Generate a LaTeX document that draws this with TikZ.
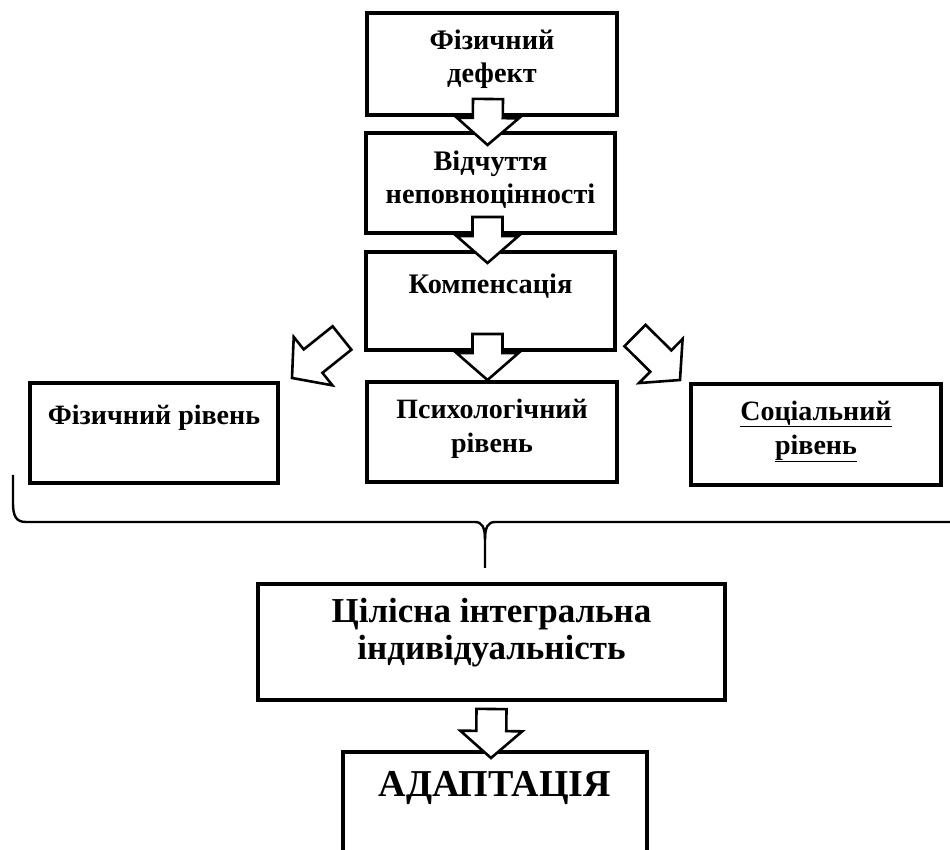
\documentclass[tikz,border=0pt]{standalone}
\usepackage{fontspec}
\setmainfont{Liberation Serif}
\usetikzlibrary{calc}
\tikzset{
  box/.style={draw, line width=4pt, inner sep=0pt, fill=white},
  blockarrow/.style={draw, line width=2.6pt, fill=white, line join=miter},
  bracepath/.style={draw, line width=2.4pt},
  txtA/.style={font=\fontsize{28.3}{33}\selectfont\bfseries, align=center, inner sep=0pt},
  txtB/.style={font=\fontsize{28}{34}\selectfont\bfseries, align=center, inner sep=0pt},
  txtC/.style={font=\fontsize{35}{37}\selectfont\bfseries, align=center, inner sep=0pt},
  txtD/.style={font=\fontsize{38}{40}\selectfont\bfseries, align=center, inner sep=0pt}
}
% block arrow from coordinate #1 (tail centre) to coordinate #2 (tip)
\newcommand\blockarr[2]{%
  \coordinate (nk) at ($(#2)!27pt!(#1)$);
  \draw[blockarrow] ($(#1)!15pt!90:(#2)$) -- ($(nk)!15pt!90:(#2)$) -- ($(nk)!31pt!90:(#2)$)
    -- (#2) -- ($(nk)!31pt!-90:(#2)$) -- ($(nk)!15pt!-90:(#2)$) -- ($(#1)!15pt!-90:(#2)$) -- cycle;
}
\begin{document}
\begin{tikzpicture}[x=1pt,y=1pt]
\useasboundingbox (0,0) rectangle (950,849);
\clip (0,0) rectangle (950,849);
\fill[white] (0,0) rectangle (950,849);

% boxes
\node[box, minimum width=250pt, minimum height=102pt,
  label={[txtA, yshift=5pt]center:{Фізичний\\дефект}}] (b1) at (492,785) {};
\node[box, minimum width=249pt, minimum height=100pt,
  label={[txtA, yshift=3pt]center:{Відчуття\\неповноцінності}}] (b2) at (490.5,666) {};
\node[box, minimum width=249pt, minimum height=98pt,
  label={[txtA, yshift=15pt]center:{Компенсація}}] (b3) at (490.5,548) {};
\node[box, minimum width=248pt, minimum height=100pt,
  label={[txtB, yshift=15pt]center:{Фізичний рівень}}] (phys) at (154,416) {};
\node[box, minimum width=250pt, minimum height=100pt,
  label={[txtB, yshift=3pt]center:{Психологічний\\рівень}}] (psych) at (492,417) {};
\node[box, minimum width=250pt, minimum height=101pt,
  label={[txtB, yshift=3pt]center:{\underline{Соціальний}\\\underline{рівень}}}] (soc) at (816,414.5) {};
\node[box, minimum width=467pt, minimum height=116pt,
  label={[txtC, yshift=9pt]center:{Цілісна інтегральна\\індивідуальність}}] (integ) at (491.5,207) {};
\node[box, minimum width=304pt, minimum height=118pt,
  label={[txtD, yshift=23pt]center:{АДАПТАЦІЯ}}] (adapt) at (495,38) {};

% arrow end points
\coordinate (s1) at ([xshift=-4pt,yshift=18pt]b1.south);
\coordinate (t1) at ([xshift=-3pt,yshift=-14pt]b2.north);
\coordinate (s2) at ([xshift=-3pt,yshift=18pt]b2.south);
\coordinate (t2) at ([xshift=-3pt,yshift=-13pt]b3.north);
\coordinate (s3) at ([xshift=-3pt,yshift=18pt]b3.south);
\coordinate (t3) at ([xshift=-4.5pt]psych.north);
\coordinate (s4) at ([xshift=-22pt,yshift=14pt]b3.south west);
\coordinate (t4) at ([xshift=12pt,yshift=3pt]phys.north east);
\coordinate (s5) at ([xshift=18pt,yshift=16.5pt]b3.south east);
\coordinate (t5) at ([xshift=-9pt,yshift=2pt]soc.north west);
\coordinate (s6) at ([yshift=-7pt]integ.south);
\coordinate (t6) at ([xshift=-4pt,yshift=-8pt]adapt.north);

\blockarr{s1}{t1}
\blockarr{s2}{t2}
\blockarr{s3}{t3}
\blockarr{s4}{t4}
\blockarr{s5}{t5}
\blockarr{s6}{t6}

% brace
\coordinate (brL) at (13,374);
\coordinate (brM) at (485,281);
\coordinate (brR) at (960,327);
\draw[bracepath] (brL) -- (13,346) .. controls (13,333) and (16,327) .. (26,327)
  -- (475,327) .. controls (482,327) and (485,322) .. (485,309) -- (brM);
\draw[bracepath] (485,309) .. controls (485,322) and (488,327) .. (495,327) -- (brR);
\end{tikzpicture}
\end{document}
